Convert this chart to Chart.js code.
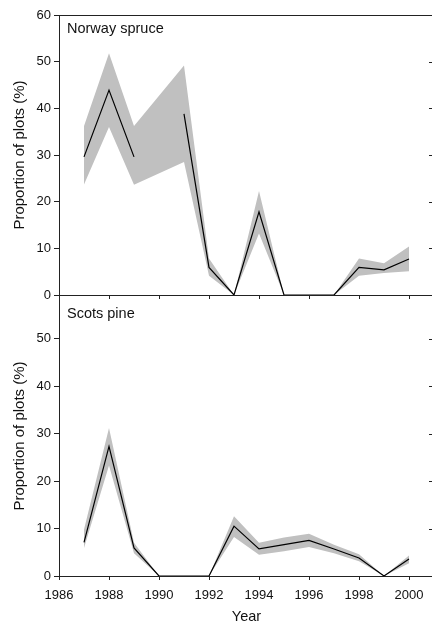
<!DOCTYPE html>
<html><head><meta charset="utf-8">
<script src="https://cdn.jsdelivr.net/npm/chart.js@4.4.1/dist/chart.umd.min.js"></script>
<style>
html,body{margin:0;padding:0;background:#fff;overflow:hidden;width:432px;height:626px;}
#wrap{position:relative;width:432px;height:626px;overflow:hidden;background:#fff;}
.c{position:absolute;left:0;}
</style></head><body>
<div id="wrap">
<div class="c" style="top:0;width:436px;height:312px"><canvas id="topc"></canvas></div>
<div class="c" style="top:296px;width:436px;height:330px"><canvas id="botc"></canvas></div>
</div>
<script>
// ---- data ----
const years = [1987,1988,1989,1990,1991,1992,1993,1994,1995,1996,1997,1998,1999,2000];
const spruceMean  = [29.6, 43.9, 29.6, null, 38.8, 5.9, 0, 17.8, 0, 0, 0, 5.9, 5.4, 7.7];
const spruceUpper = [36.2, 51.8, 36.2, null, 49.2, 7.8, 0, 22.3, 0, 0, 0, 7.8, 6.8, 10.4];
const spruceLower = [23.7, 36.0, 23.6, null, 28.5, 4.1, 0, 13.2, 0, 0, 0, 4.1, 4.7, 5.1];
const pineMean  = [7.1, 27.3, 5.9, 0, 0, 0, 10.5, 5.7, 6.6, 7.5, 5.7, 3.8, 0, 3.6];
const pineUpper = [9.8, 31.2, 7.0, 0, 0, 0, 12.6, 7.0, 8.1, 8.9, 6.6, 4.6, 0, 4.3];
const pineLower = [5.9, 23.3, 4.8, 0, 0, 0, 8.2, 4.5, 5.2, 6.1, 4.8, 3.1, 0, 2.7];
const panelNames = ["Norway spruce", "Scots pine"];
const yTitle = "Proportion of plots (%)";
const xTitle = "Year";

Chart.defaults.font.family = "'Liberation Sans', Arial, Helvetica, sans-serif";
Chart.defaults.color = '#111';

const AX = '#222';
const BAND = 'rgb(192,192,192)';

function pts(arr){ return years.map((x,i)=>({x:x, y:arr[i]})); }

const framePlugin = {
  id: 'frame',
  afterDraw(chart, args, opts){
    const ctx = chart.ctx, ca = chart.chartArea, ys = chart.scales.y;
    ctx.save();
    ctx.strokeStyle = AX; ctx.lineWidth = 1;
    ys.ticks.forEach(t => {
      if (t.value <= 0 || t.value >= opts.topTickMax) return;
      const py = Math.round(ys.getPixelForValue(t.value)) + 0.5;
      ctx.beginPath(); ctx.moveTo(ca.right - 5, py); ctx.lineTo(ca.right, py); ctx.stroke();
    });
    if (opts.topLine) {
      const py = Math.round(ca.top) + 0.5;
      ctx.beginPath(); ctx.moveTo(ca.left, py); ctx.lineTo(chart.width, py); ctx.stroke();
    }
    ctx.fillStyle = '#111';
    ctx.font = "14.5px 'Liberation Sans', Arial, sans-serif";
    ctx.textBaseline = 'middle'; ctx.textAlign = 'left';
    ctx.fillText(opts.label, ca.left + 8, opts.labelY);
    ctx.restore();
  }
};

function makeChart(id, mean, upper, lower, opts){
  return new Chart(document.getElementById(id), {
    type: 'line',
    data: { datasets: [
      { data: pts(mean), fill: false, borderColor: '#000', borderWidth: 1.2, pointRadius: 0, spanGaps: false, tension: 0 },
      { data: pts(upper), fill: '+1', backgroundColor: BAND, borderWidth: 0, pointRadius: 0, spanGaps: true, tension: 0 },
      { data: pts(lower), fill: false, borderWidth: 0, pointRadius: 0, spanGaps: true, tension: 0 }
    ]},
    options: {
      responsive: true, maintainAspectRatio: false, animation: false, devicePixelRatio: 1,
      layout: { padding: { top: opts.padTop, right: 2, left: 0, bottom: 0 } },
      plugins: { legend: { display: false }, tooltip: { enabled: false },
        frame: { label: opts.label, labelY: opts.labelY, topLine: opts.topLine, topTickMax: opts.topTickMax } },
      scales: {
        x: {
          type: 'linear', min: 1986, max: 2001,
          afterFit: s => { s.height = opts.xHeight; s.paddingLeft = 0; s.paddingRight = 0; },
          border: { display: true, color: AX, width: 1 },
          grid: { display: true, drawOnChartArea: false, drawTicks: true, tickLength: 4, color: AX },
          ticks: { display: opts.xLabels, stepSize: 2, includeBounds: false, padding: 8,
                   font: { size: 13 }, color: '#111', maxRotation: 0, autoSkip: false,
                   callback: v => String(v) },
          title: { display: opts.xLabels, text: xTitle, font: { size: 14.5 }, color: '#111', padding: { top: 0, bottom: 0 } }
        },
        y: {
          min: 0, max: opts.ymax,
          afterFit: s => { s.width = 59; s.paddingTop = 0; s.paddingBottom = 0; },
          border: { display: true, color: AX, width: 1 },
          grid: { display: true, drawOnChartArea: false, drawTicks: true, tickLength: 5, color: AX },
          ticks: { stepSize: 10, includeBounds: false, padding: 3, font: { size: 13 }, color: '#111',
                   callback: v => String(v) },
          title: { display: true, text: yTitle, font: { size: 15 }, color: '#111', padding: { top: 11, bottom: 0 } }
        }
      }
    },
    plugins: [framePlugin]
  });
}

makeChart('topc', spruceMean, spruceUpper, spruceLower,
  { padTop: 15, xHeight: 17, xLabels: false, ymax: 60, label: panelNames[0], labelY: 29, topLine: true, topTickMax: 60 });
makeChart('botc', pineMean, pineUpper, pineLower,
  { padTop: 0, xHeight: 50, xLabels: true, ymax: 59, label: panelNames[1], labelY: 18, topLine: false, topTickMax: 59 });
</script>
</body></html>
